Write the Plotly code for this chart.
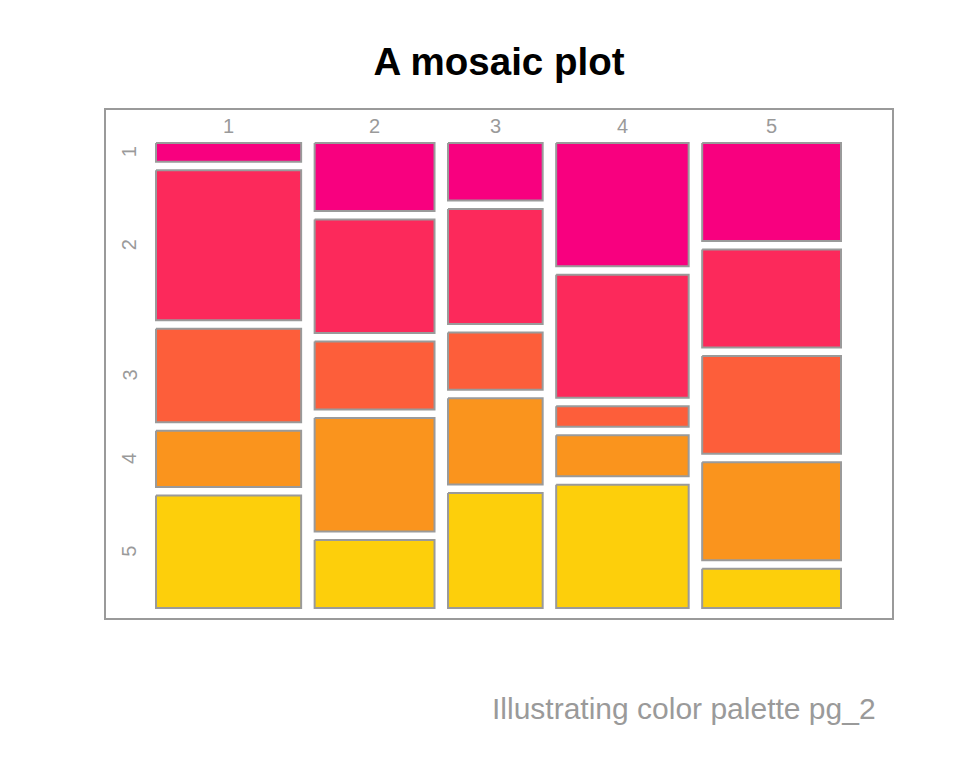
import plotly.graph_objects as go

# ---- data: contingency table (rows = vertical split, columns = horizontal split)
col_labels = ["1", "2", "3", "4", "5"]
row_labels = ["1", "2", "3", "4", "5"]
# counts per column, listed top row to bottom row
col1 = [1, 8, 5, 3, 6]
col2 = [3, 5, 3, 5, 3]
col3 = [2, 4, 2, 3, 4]
col4 = [6, 6, 1, 2, 6]
col5 = [5, 5, 5, 5, 2]
counts = [col1, col2, col3, col4, col5]
row_colors = ["#F8007F", "#FC295B", "#FD5E3A", "#FA941D", "#FDCF0B"]

title_text = "A mosaic plot"
caption_text = "Illustrating color palette pg_2"

# ---- geometry (unit space: tiles occupy [0,1] x [0,1])
GAP_X = 13.5 / 685
GAP_Y = 8.5 / 465
PAD_L, PAD_R = 51 / 685, 52 / 685
PAD_T, PAD_B = 34 / 465, 11 / 465
ROW_LABEL_X = -27 / 685
COL_LABEL_Y = -17 / 465
FONT = "Liberation Sans, Arial, sans-serif"
GREY = "#9a9a9a"

n_cols = len(counts)
total = sum(sum(c) for c in counts)
avail_x = 1 - GAP_X * (n_cols - 1)

fig = go.Figure()
annotations = []

x = 0.0
for ci, col in enumerate(counts):
    w = avail_x * sum(col) / total
    n_rows = len(col)
    avail_y = 1 - GAP_Y * (n_rows - 1)
    y = 0.0
    for ri, v in enumerate(col):
        h = avail_y * v / sum(col)
        fig.add_trace(go.Scatter(
            x=[x, x + w, x + w, x, x],
            y=[y, y, y + h, y + h, y],
            mode="lines", fill="toself",
            fillcolor=row_colors[ri],
            line=dict(color=GREY, width=2),
            hoverinfo="skip", showlegend=False,
        ))
        if ci == 0:
            annotations.append(dict(
                x=ROW_LABEL_X, y=y + h / 2, xref="x", yref="y",
                text=row_labels[ri], textangle=-90, showarrow=False,
                font=dict(family=FONT, size=20, color=GREY),
                xanchor="center", yanchor="middle",
            ))
        y += h + GAP_Y
    annotations.append(dict(
        x=x + w / 2, y=COL_LABEL_Y, xref="x", yref="y",
        text=col_labels[ci], showarrow=False,
        font=dict(family=FONT, size=20, color=GREY),
        xanchor="center", yanchor="middle",
    ))
    x += w + GAP_X

annotations.append(dict(
    x=(878 - 105) / 788, y=(619 - 708) / 510, xref="paper", yref="paper",
    text=caption_text, showarrow=False,
    font=dict(family=FONT, size=30, color=GREY),
    xanchor="right", yanchor="middle",
))

fig.update_layout(
    width=960, height=768,
    margin=dict(l=105, r=67, t=109, b=149),
    paper_bgcolor="white", plot_bgcolor="white",
    title=dict(text="<b>" + title_text + "</b>", x=0.5, xref="paper",
               y=1 - 62 / 768, yref="container", yanchor="middle",
               font=dict(family=FONT, size=38.5, color="black")),
    xaxis=dict(range=[-PAD_L, 1 + PAD_R], visible=False, fixedrange=True),
    yaxis=dict(range=[1 + PAD_B, -PAD_T], visible=False, fixedrange=True),
    annotations=annotations,
    shapes=[dict(type="rect", xref="paper", yref="paper", x0=0, y0=0, x1=1, y1=1,
                 line=dict(color=GREY, width=2), layer="above")],
)

fig.write_html("out.html")
